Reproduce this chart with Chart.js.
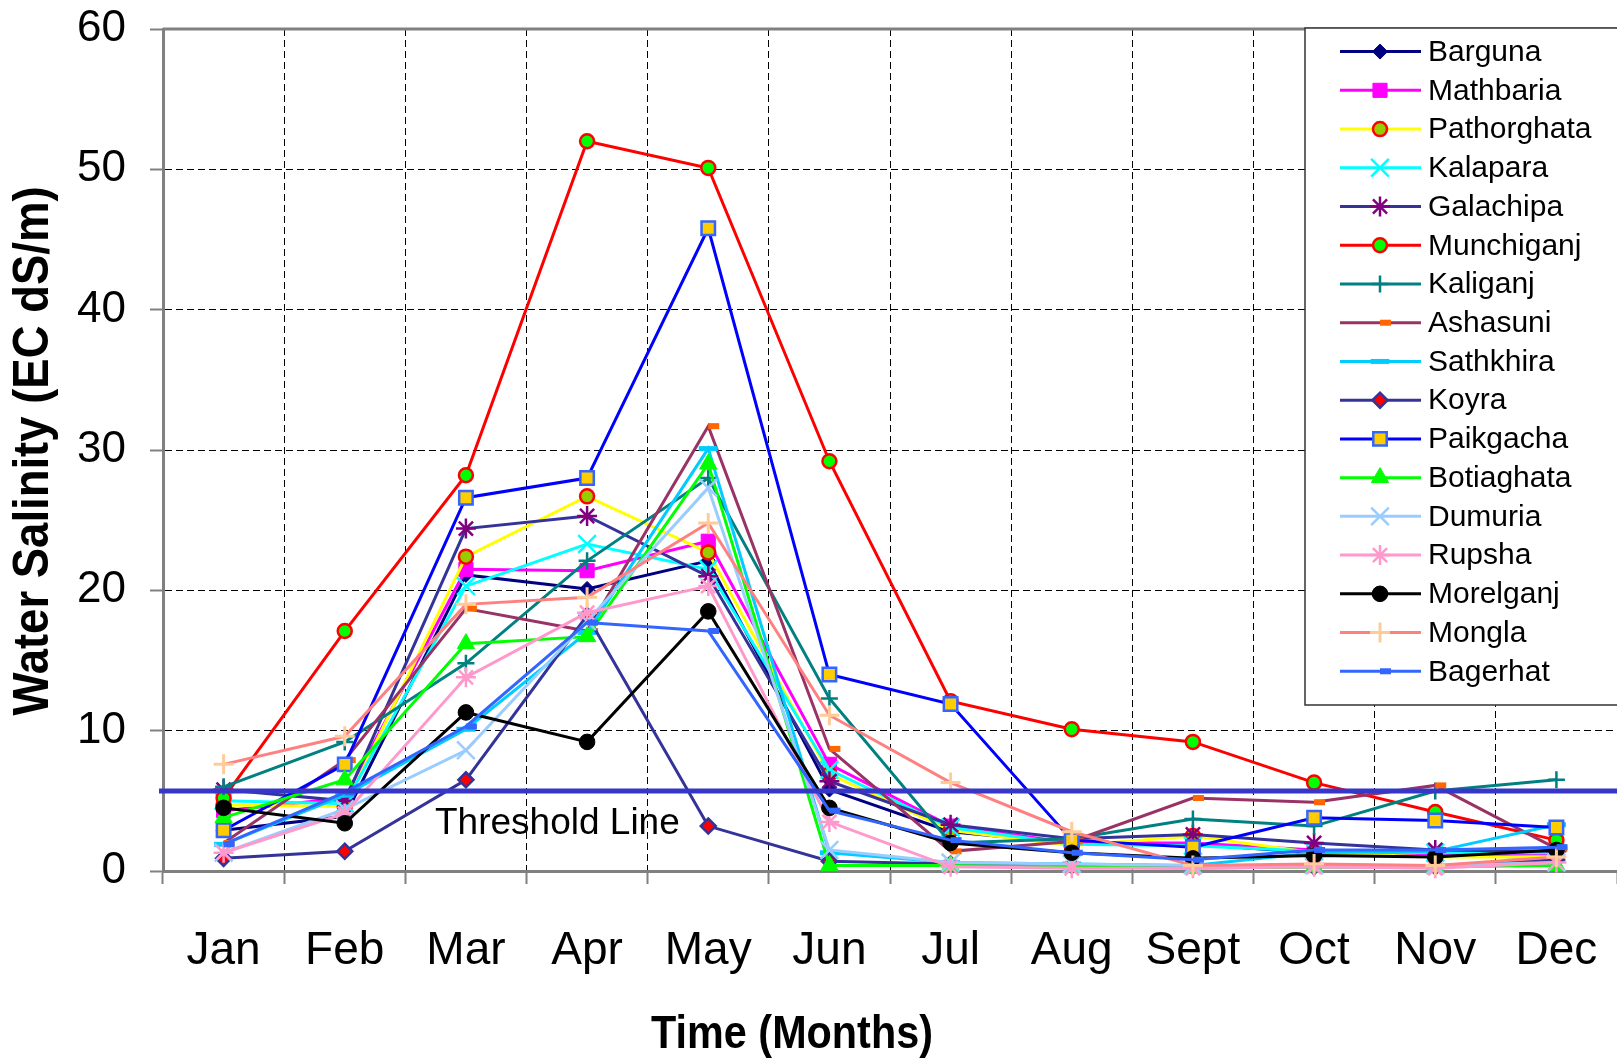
<!DOCTYPE html>
<html>
<head>
<meta charset="utf-8">
<title>Water Salinity by Month</title>
<script src="https://cdn.jsdelivr.net/npm/chart.js@4.4.1/dist/chart.umd.min.js"></script>
<style>
  html, body { margin: 0; padding: 0; background: #fff; }
  #wrap { width: 1617px; height: 1060px; }
</style>
</head>
<body>
<div id="wrap"><canvas id="chart" width="1617" height="1060"></canvas></div>
<script>
const months = ['Jan', 'Feb', 'Mar', 'Apr', 'May', 'Jun', 'Jul', 'Aug', 'Sept', 'Oct', 'Nov', 'Dec'];
const yTickValues = [0, 10, 20, 30, 40, 50, 60];
const THRESHOLD = 5.7;

const barguna     = [2.9, 3.9, 21.1, 20.1, 22.1, 5.8, 2.8, 2.0, 1.9, 1.3, 1.2, 0.9];
const mathbaria   = [4.3, 5.2, 21.5, 21.4, 23.5, 7.6, 3.2, 2.0, 2.0, 1.5, 1.2, 1.2];
const pathorghata = [4.7, 4.6, 22.4, 26.7, 22.7, 6.9, 2.9, 1.8, 2.5, 1.3, 1.0, 1.0];
const kalapara    = [5.0, 4.8, 20.3, 23.3, 21.5, 7.2, 3.1, 1.9, 1.8, 1.4, 1.3, 1.3];
const galachipa   = [5.8, 5.0, 24.4, 25.3, 21.0, 6.4, 3.3, 2.3, 2.6, 2.0, 1.5, 1.4];
const munchiganj  = [5.2, 17.1, 28.2, 52.0, 50.1, 29.2, 12.1, 10.1, 9.2, 6.3, 4.2, 2.2];
const kaliganj    = [6.0, 9.2, 14.8, 22.1, 28.0, 12.3, 2.0, 2.3, 3.7, 3.2, 5.7, 6.5];
const ashasuni    = [2.0, 7.9, 18.7, 17.1, 31.7, 8.7, 1.4, 2.1, 5.2, 4.9, 6.1, 1.6];
const sathkhira   = [1.9, 5.4, 10.1, 17.0, 30.1, 1.3, 0.6, 0.5, 0.4, 1.3, 1.4, 3.3];
const koyra       = [0.9, 1.4, 6.5, 18.2, 3.2, 0.7, 0.5, 0.4, 0.3, 0.3, 0.3, 0.8];
const paikgacha   = [2.9, 7.6, 26.6, 28.0, 45.8, 14.0, 11.9, 2.2, 1.7, 3.8, 3.6, 3.1];
const botiaghata  = [3.8, 6.5, 16.2, 16.7, 29.0, 0.4, 0.4, 0.3, 0.2, 0.3, 0.3, 0.4];
const dumuria     = [1.3, 4.4, 8.6, 17.8, 27.3, 1.5, 0.6, 0.5, 0.4, 0.4, 0.4, 0.6];
const rupsha      = [1.3, 4.1, 13.8, 18.4, 20.3, 3.5, 0.3, 0.2, 0.2, 0.3, 0.2, 0.6];
const morelganj   = [4.5, 3.4, 11.3, 9.2, 18.5, 4.5, 2.0, 1.3, 0.9, 1.1, 1.0, 1.5];
const mongla      = [7.6, 9.6, 19.0, 19.5, 24.8, 11.1, 6.3, 2.8, 0.4, 0.5, 0.4, 1.0];
const bagerhat    = [1.9, 5.6, 10.3, 17.7, 17.1, 4.3, 2.2, 1.3, 0.8, 1.5, 1.5, 1.7];

const seriesNames = ['Barguna', 'Mathbaria', 'Pathorghata', 'Kalapara', 'Galachipa', 'Munchiganj',
  'Kaliganj', 'Ashasuni', 'Sathkhira', 'Koyra', 'Paikgacha', 'Botiaghata', 'Dumuria', 'Rupsha',
  'Morelganj', 'Mongla', 'Bagerhat'];
const seriesValues = [barguna, mathbaria, pathorghata, kalapara, galachipa, munchiganj, kaliganj,
  ashasuni, sathkhira, koyra, paikgacha, botiaghata, dumuria, rupsha, morelganj, mongla, bagerhat];

// line colour, marker shape, marker fill, marker edge, radius, edge width
const seriesStyles = [
  { line: '#000080', shape: 'rectRot',  fill: '#000080', edge: '#000080', r: 7.5,  bw: 1 },
  { line: '#FF00FF', shape: 'rect',     fill: '#FF00FF', edge: '#FF00FF', r: 10,   bw: 1 },
  { line: '#FFFF00', shape: 'circle',   fill: '#99CC00', edge: '#FF0000', r: 7,    bw: 2.5 },
  { line: '#00FFFF', shape: 'crossRot', fill: '#00FFFF', edge: '#00FFFF', r: 12.5, bw: 2.5 },
  { line: '#333399', shape: 'star',     fill: '#800080', edge: '#800080', r: 10,   bw: 2.5 },
  { line: '#FF0000', shape: 'circle',   fill: '#00FF00', edge: '#FF0000', r: 7,    bw: 2.5 },
  { line: '#008080', shape: 'cross',    fill: '#008080', edge: '#008080', r: 8.5,  bw: 2.5 },
  { line: '#993366', shape: 'dash',     fill: '#FF6600', edge: '#FF6600', r: 11,   bw: 6 },
  { line: '#00CCFF', shape: 'line',     fill: '#00CCFF', edge: '#00CCFF', r: 9.5,  bw: 5 },
  { line: '#333399', shape: 'rectRot',  fill: '#FF0000', edge: '#333399', r: 7.5,  bw: 2.5 },
  { line: '#0000FF', shape: 'rect',     fill: '#FFCC00', edge: '#3366FF', r: 9.5,  bw: 2.5 },
  { line: '#00FF00', shape: 'triangle', fill: '#00FF00', edge: '#00FF00', r: 10,   bw: 1 },
  { line: '#99CCFF', shape: 'crossRot', fill: '#99CCFF', edge: '#99CCFF', r: 12.5, bw: 2.5 },
  { line: '#FF99CC', shape: 'star',     fill: '#FF99CC', edge: '#FF99CC', r: 10,   bw: 2.5 },
  { line: '#000000', shape: 'circle',   fill: '#000000', edge: '#000000', r: 7.8,  bw: 1 },
  { line: '#FF8080', shape: 'cross',    fill: '#FFCC99', edge: '#FFCC99', r: 10,   bw: 3 },
  { line: '#3366FF', shape: 'dash',     fill: '#3366FF', edge: '#3366FF', r: 11,   bw: 6 },
];

const FONT = '"Liberation Sans", Arial, sans-serif';
const AXIS_GREY = '#808080';
const LINE_W = 3;

const datasets = seriesNames.map((name, i) => {
  const s = seriesStyles[i];
  return {
    label: name,
    data: seriesValues[i],
    borderColor: s.line,
    borderWidth: LINE_W,
    pointStyle: s.shape,
    pointRadius: s.r,
    pointBackgroundColor: s.fill,
    pointBorderColor: s.edge,
    pointBorderWidth: s.bw,
    tension: 0,
    clip: false,
    order: seriesNames.length - i, // later series on top
  };
});

function drawText(ctx, text, x, y, rot, font, squeeze) {
  ctx.save();
  ctx.translate(x, y);
  ctx.rotate(rot);
  ctx.scale(squeeze, 1);
  ctx.font = font;
  ctx.fillStyle = '#000';
  ctx.textAlign = 'center';
  ctx.textBaseline = 'middle';
  ctx.fillText(text, 0, 0);
  ctx.restore();
}

const decorations = {
  id: 'decorations',
  afterDatasetsDraw(chart) {
    const { ctx, chartArea } = chart;
    const y = chart.scales.y.getPixelForValue(THRESHOLD);
    ctx.save();
    // top frame line
    ctx.strokeStyle = AXIS_GREY;
    ctx.lineWidth = 3;
    ctx.beginPath();
    ctx.moveTo(chartArea.left, chartArea.top);
    ctx.lineTo(chartArea.right, chartArea.top);
    ctx.stroke();
    // threshold
    ctx.strokeStyle = '#3636C8';
    ctx.lineWidth = 5;
    ctx.beginPath();
    ctx.moveTo(chartArea.left - 4, y);
    ctx.lineTo(chart.width, y);
    ctx.stroke();
    ctx.font = '37px ' + FONT;
    ctx.fillStyle = '#000';
    ctx.textAlign = 'left';
    ctx.textBaseline = 'alphabetic';
    ctx.fillText('Threshold Line', 435, y + 43);
    ctx.restore();
  },
  afterDraw(chart) {
    const ctx = chart.ctx;
    const helpers = Chart.helpers;
    ctx.save();
    // legend box
    ctx.fillStyle = '#fff';
    ctx.fillRect(1305, 28, 330, 677);
    ctx.strokeStyle = '#333';
    ctx.lineWidth = 1.5;
    ctx.strokeRect(1305, 28, 330, 677);
    seriesNames.forEach((name, i) => {
      const s = seriesStyles[i];
      const y = 51.6 + i * 38.73;
      ctx.strokeStyle = s.line;
      ctx.lineWidth = LINE_W;
      ctx.beginPath();
      ctx.moveTo(1340, y);
      ctx.lineTo(1421, y);
      ctx.stroke();
      ctx.fillStyle = s.fill;
      ctx.strokeStyle = s.edge;
      ctx.lineWidth = s.bw;
      helpers.drawPoint(ctx, { pointStyle: s.shape, radius: s.r, borderWidth: s.bw, rotation: 0 }, 1380, y);
      ctx.fillStyle = '#000';
      ctx.font = '30px ' + FONT;
      ctx.textAlign = 'left';
      ctx.textBaseline = 'middle';
      ctx.fillText(name, 1428, y + 1);
    });
    ctx.restore();
    drawText(ctx, 'Water Salinity (EC dS/m)', 34, 451, -Math.PI / 2, 'bold 50px ' + FONT, 0.91);
    drawText(ctx, 'Time (Months)', 792, 1035, 0, 'bold 47px ' + FONT, 0.88);
  },
};

new Chart(document.getElementById('chart'), {
  type: 'line',
  data: { labels: months, datasets },
  options: {
    responsive: false,
    animation: false,
    events: [],
    devicePixelRatio: 1,
    layout: { autoPadding: false, padding: { top: 29, right: 0, bottom: 0, left: 0 } },
    plugins: { legend: { display: false }, tooltip: { enabled: false }, title: { display: false } },
    scales: {
      x: {
        type: 'category',
        offset: true,
        grid: {
          offset: true,
          color: '#000',
          lineWidth: 1,
          tickColor: AXIS_GREY,
          tickLength: 13,
          tickWidth: 2,
        },
        border: { display: true, color: AXIS_GREY, width: 3, dash: [7, 4] },
        ticks: { color: '#000', font: { family: FONT, size: 46 }, padding: 40, maxRotation: 0, autoSkip: false },
        afterFit(scale) {
          scale.height = 189;
          scale.paddingLeft = 0;
          scale.paddingRight = 0;
        },
      },
      y: {
        min: 0,
        max: 60,
        afterBuildTicks(scale) { scale.ticks = yTickValues.map(v => ({ value: v })); },
        grid: {
          color: '#000',
          lineWidth: 1,
          tickColor: AXIS_GREY,
          tickLength: 13,
          tickWidth: 2,
        },
        border: { display: true, color: AXIS_GREY, width: 3, dash: [7, 4] },
        ticks: { color: '#000', font: { family: FONT, size: 44 }, padding: 24 },
        afterFit(scale) {
          scale.width = 163;
          scale.paddingTop = 0;
          scale.paddingBottom = 0;
        },
      },
    },
  },
  plugins: [decorations],
});
</script>
</body>
</html>
